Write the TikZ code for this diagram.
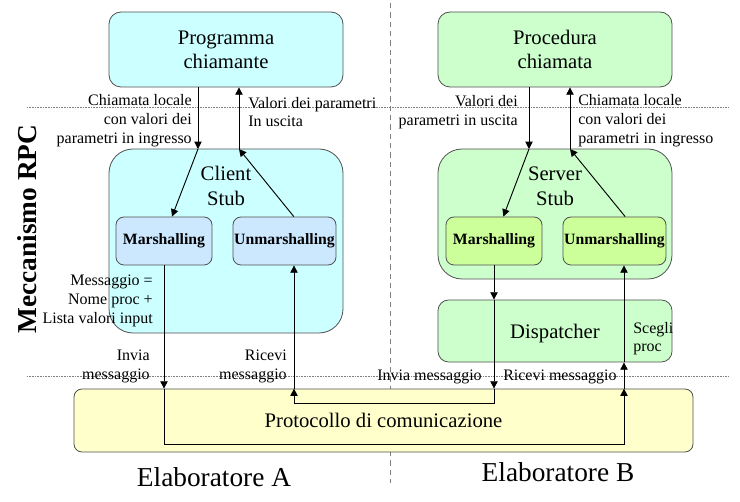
\documentclass[tikz,border=0pt]{standalone}
\usepackage{fontspec}
\setmainfont{Liberation Serif}
\usepackage{xcolor}
\usetikzlibrary{arrows.meta}
\definecolor{azzurro}{HTML}{CCFFFF}
\definecolor{verdino}{HTML}{CCFFCC}
\definecolor{celeste}{HTML}{CCE8FF}
\definecolor{verdelime}{HTML}{CCFF99}
\definecolor{giallino}{HTML}{FFFFCC}
\definecolor{bordo}{HTML}{505050}
\begin{document}
\begin{tikzpicture}[x=0.75pt, y=-0.75pt,
    scatola/.style={draw=bordo, line width=0.6pt, rounded corners=#1, inner sep=0pt, align=center, font=\fontsize{15.5}{18}\selectfont},
    scatola/.default=9pt,
    misura/.style 2 args={minimum width=#1*0.75pt, minimum height=#2*0.75pt},
    titolo/.style={align=center, inner sep=0pt, font=\fontsize{15.5}{18.75}\selectfont},
    grassetto/.style={font=\fontsize{11.8}{14}\selectfont\bfseries},
    etichetta/.style={inner sep=0pt, font=\fontsize{12}{14.2}\selectfont},
    freccia/.style={-{Triangle[length=5.5pt, width=5.5pt]}, line width=0.7pt},
    separatore/.style={gray, line width=0.5pt}]
    % area del disegno
    \useasboundingbox (0,0) rectangle (740,502);
    % Separatori
    \draw[separatore, dash pattern=on 4pt off 3pt] (390,3) -- (390,483);
    \draw[separatore, dash pattern=on 0.6pt off 0.6pt] (27,107) -- (728,107);
    \draw[separatore, dash pattern=on 0.6pt off 0.6pt] (27,376) -- (728,376);
    % Programmi
    \node[scatola=9pt, misura={234}{75}, fill=azzurro] (prog) at (226,49.5) {Programma\\chiamante};
    \node[scatola=9pt, misura={234}{75}, fill=verdino] (proc) at (555,49.5) {Procedura\\chiamata};
    % Stub
    \node[scatola=18pt, misura={234}{184}, fill=azzurro] (cstub) at (226,241) {};
    \node[scatola=18pt, misura={234}{130}, fill=verdino] (sstub) at (555,214) {};
    \node[titolo] (ctit) at (226,186) {Client\\Stub};
    \node[titolo] (stit) at (555,186) {Server\\Stub};
    \node[scatola=6pt, misura={96}{48}, fill=celeste, grassetto] (cmar) at (164,241) {Marshalling};
    \node[scatola=6pt, misura={103}{48}, fill=celeste, grassetto] (cunm) at (284.5,241) {Unmarshalling};
    \node[scatola=6pt, misura={96}{48}, fill=verdelime, grassetto] (smar) at (494,241) {Marshalling};
    \node[scatola=6pt, misura={103}{48}, fill=verdelime, grassetto] (sunm) at (614.5,241) {Unmarshalling};
    % Dispatcher e protocollo
    \node[scatola=8pt, misura={234}{62}, fill=verdino, text depth=0pt] (disp) at (555,331) {Dispatcher};
    \node[scatola=6pt, misura={619}{63}, fill=giallino] (proto) at (383.5,420.5) {Protocollo di comunicazione};
    % Chiamate locali
    \coordinate (cing) at (198,149);
    \coordinate (cusc) at (239,149);
    \coordinate (sing) at (529,149);
    \coordinate (susc) at (570,149);
    \draw[freccia] (prog.south -| cing) -- (cing);
    \draw[freccia] (cing) -- ([xshift=6pt]cmar.north);
    \draw[freccia] ([xshift=7pt]cunm.north) -- (cusc);
    \draw[freccia] (cusc) -- (prog.south -| cusc);
    \draw[freccia] (proc.south -| sing) -- (sing);
    \draw[freccia] (sing) -- ([xshift=7pt]smar.north);
    \draw[freccia] ([xshift=8pt]sunm.north) -- (susc);
    \draw[freccia] (susc) -- (proc.south -| susc);
    % Messaggio di richiesta
    \coordinate (a1) at (164,444);
    \coordinate (a2) at (624,444);
    \draw[freccia] (cmar.south) -- (cmar.south |- proto.north);
    \draw[freccia] (cmar.south |- proto.north) -- (a1) -- (a2) -- (a2 |- proto.north);
    \draw[freccia] (a2 |- proto.north) -- (a2 |- disp.south);
    \draw[freccia] (a2 |- disp.south) -- (a2 |- sunm.south);
    % Messaggio di risposta
    \coordinate (b1) at (494,403);
    \coordinate (b2) at (294,403);
    \draw[freccia] (smar.south) -- (smar.south |- disp.north);
    \draw[freccia] (smar.south |- disp.north) -- (smar.south |- proto.north);
    \draw[freccia] (smar.south |- proto.north) -- (b1) -- (b2) -- (b2 |- proto.north);
    \draw[freccia] (b2 |- proto.north) -- (b2 |- cunm.south);
    % Etichette
    \node[etichetta, align=right, anchor=east] (l1) at (192,121) {Chiamata locale\\con valori dei\\parametri in ingresso};
    \node[etichetta, align=left, anchor=west] (l2) at (248,112) {Valori dei parametri\\In uscita};
    \node[etichetta, align=right, anchor=east] (l3) at (518,112) {Valori dei\\parametri in uscita};
    \node[etichetta, align=left, anchor=west] (l4) at (578,121) {Chiamata locale\\con valori dei\\parametri in ingresso};
    \node[etichetta, align=right, anchor=east] (l5) at (153,301) {Messaggio =\\Nome proc +\\Lista valori input};
    \node[etichetta, align=right, anchor=east] (l6) at (150,366.5) {Invia\\messaggio};
    \node[etichetta, align=right, anchor=east] (l7) at (287,366.5) {Ricevi\\messaggio};
    \node[etichetta, anchor=east] (l8) at (482,377) {Invia messaggio};
    \node[etichetta, anchor=west] (l9) at (503,377) {Ricevi messaggio};
    \node[etichetta, align=left, anchor=west, font=\fontsize{12}{13.5}\selectfont] (l10) at (633,339) {Scegli\\proc};
    % Elaboratori
    \node[font=\fontsize{20.5}{24}\selectfont] (elA) at (214,477) {Elaboratore A};
    \node[font=\fontsize{20.5}{24}\selectfont] (elB) at (558,472) {Elaboratore B};
    \node[rotate=90, font=\fontsize{20.5}{24}\selectfont\bfseries] (rpc) at (27,229) {Meccanismo RPC};
\end{tikzpicture}
\end{document}
